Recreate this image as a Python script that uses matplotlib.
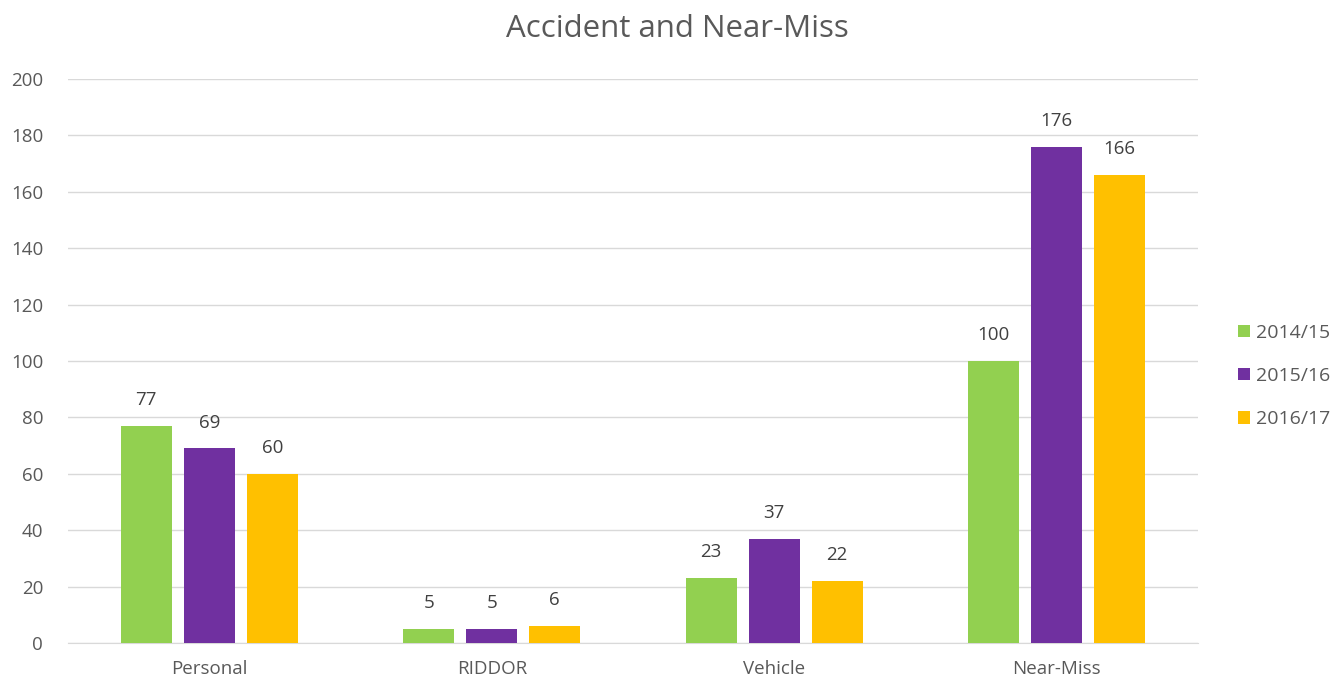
import numpy as np
import matplotlib.pyplot as plt

categories = ['Personal', 'RIDDOR', 'Vehicle', 'Near-Miss']
years = ['2014/15', '2015/16', '2016/17']
counts_1415 = [77, 5, 23, 100]
counts_1516 = [69, 5, 37, 176]
counts_1617 = [60, 6, 22, 166]

colors = ['#92D050', '#7030A0', '#FFC000']
text_color = '#595959'

plt.rcParams['font.family'] = ['Open Sans', 'DejaVu Sans']

fig = plt.figure(figsize=(13.37, 6.8), dpi=100)
ax = fig.add_axes([0.0509, 0.0544, 0.8451, 0.8294])

x = np.arange(len(categories))
step = 0.223
width = 0.18
for i, (vals, label) in enumerate(zip([counts_1415, counts_1516, counts_1617], years)):
    bars = ax.bar(x + (i - 1) * step, vals, width, color=colors[i], label=label, zorder=3)
    for b, v in zip(bars, vals):
        ax.text(b.get_x() + b.get_width() / 2, v + 6, str(v), ha='center', va='bottom',
                fontsize=13.5, color='#404040')

ax.set_xlim(-0.5, 3.5)
ax.set_ylim(0, 200)
ax.set_yticks(range(0, 201, 20))
ax.set_xticks(x)
ax.set_xticklabels(categories)
ax.tick_params(axis='both', length=0, labelsize=13.5, labelcolor=text_color)
ax.tick_params(axis='y', pad=18)
ax.tick_params(axis='x', pad=12)
ax.grid(axis='y', color='#D9D9D9', linewidth=1, zorder=0)
for side in ['top', 'right', 'left']:
    ax.spines[side].set_visible(False)
ax.spines['bottom'].set_color('#D9D9D9')

fig.text(0.5063, 0.958, 'Accident and Near-Miss', ha='center', va='center',
         fontsize=22.5, color=text_color)

fig.legend(loc='center left', bbox_to_anchor=(0.913, 0.447), frameon=False,
           fontsize=14, labelcolor=text_color, handlelength=0.6, handleheight=0.6,
           handletextpad=0.3, labelspacing=1.3)

fig.savefig('out.png', dpi=100)
